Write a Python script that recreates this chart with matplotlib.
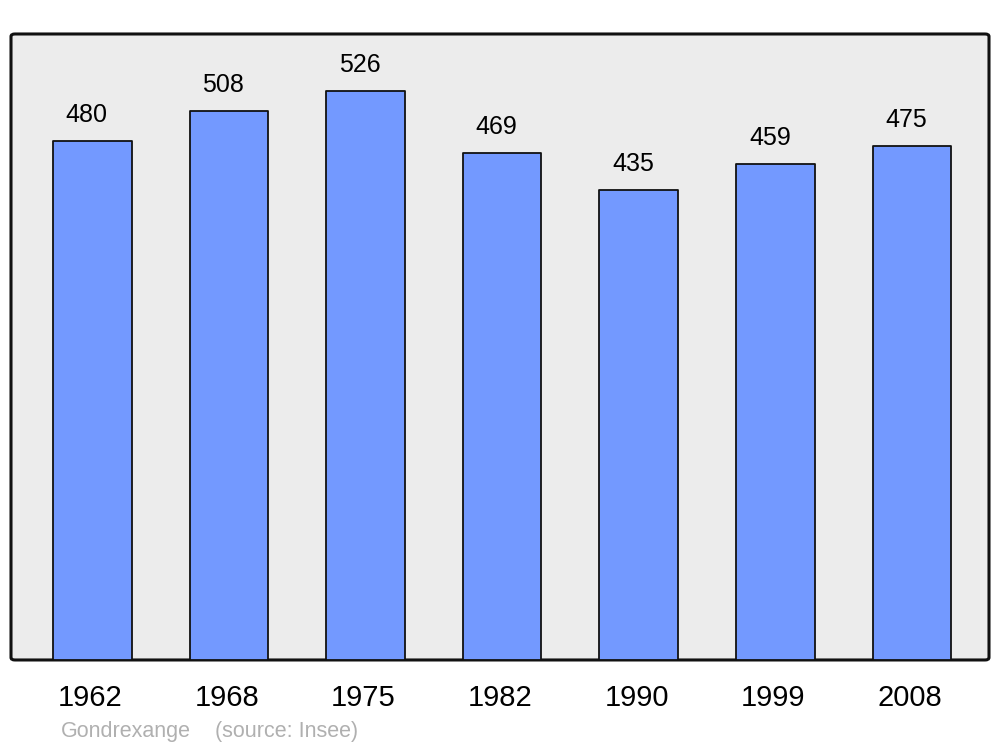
import matplotlib.pyplot as plt
from matplotlib.patches import FancyBboxPatch

plt.rcParams['font.family'] = ['Liberation Sans', 'DejaVu Sans']

annees = ['1962', '1968', '1975', '1982', '1990', '1999', '2008']
population = [480, 508, 526, 469, 435, 459, 475]

fig = plt.figure(figsize=(10, 7.47), dpi=100)
ax = fig.add_axes([0.011, 0.1165, 0.978, 0.838])
ax.set_xlim(-0.595, 6.565)
ax.set_ylim(0, 579)
ax.patch.set_visible(False)

# fond arrondi du cadre
cadre = FancyBboxPatch((0, 0), 1, 1, boxstyle='round,pad=0,rounding_size=0.004',
                       transform=ax.transAxes, facecolor='#ececec', edgecolor='#111111',
                       linewidth=2.2, zorder=0, clip_on=False)
ax.add_patch(cadre)

x = list(range(len(annees)))
barres = ax.bar(x, population, width=0.575, color='#7399ff', edgecolor='#111111',
                linewidth=1.3, zorder=2)
for b in barres:
    b.set_joinstyle('round')

for xi, v in zip(x, population):
    ax.text(xi - 0.04, v + 13, str(v), ha='center', va='bottom', fontsize=18, color='black')

for s in ax.spines.values():
    s.set_visible(False)
ax.set_yticks([])
ax.set_xticks([xi - 0.015 for xi in x])
ax.set_xticklabels(annees, fontsize=21)
ax.tick_params(axis='x', length=0, pad=17)

fig.text(0.061, 0.0134, 'Gondrexange', fontsize=15.5, color='#b0b0b0', ha='left', va='baseline')
fig.text(0.215, 0.0134, '(source: Insee)', fontsize=15.5, color='#b0b0b0', ha='left', va='baseline')

plt.savefig('out.png', dpi=100)
plt.close()
